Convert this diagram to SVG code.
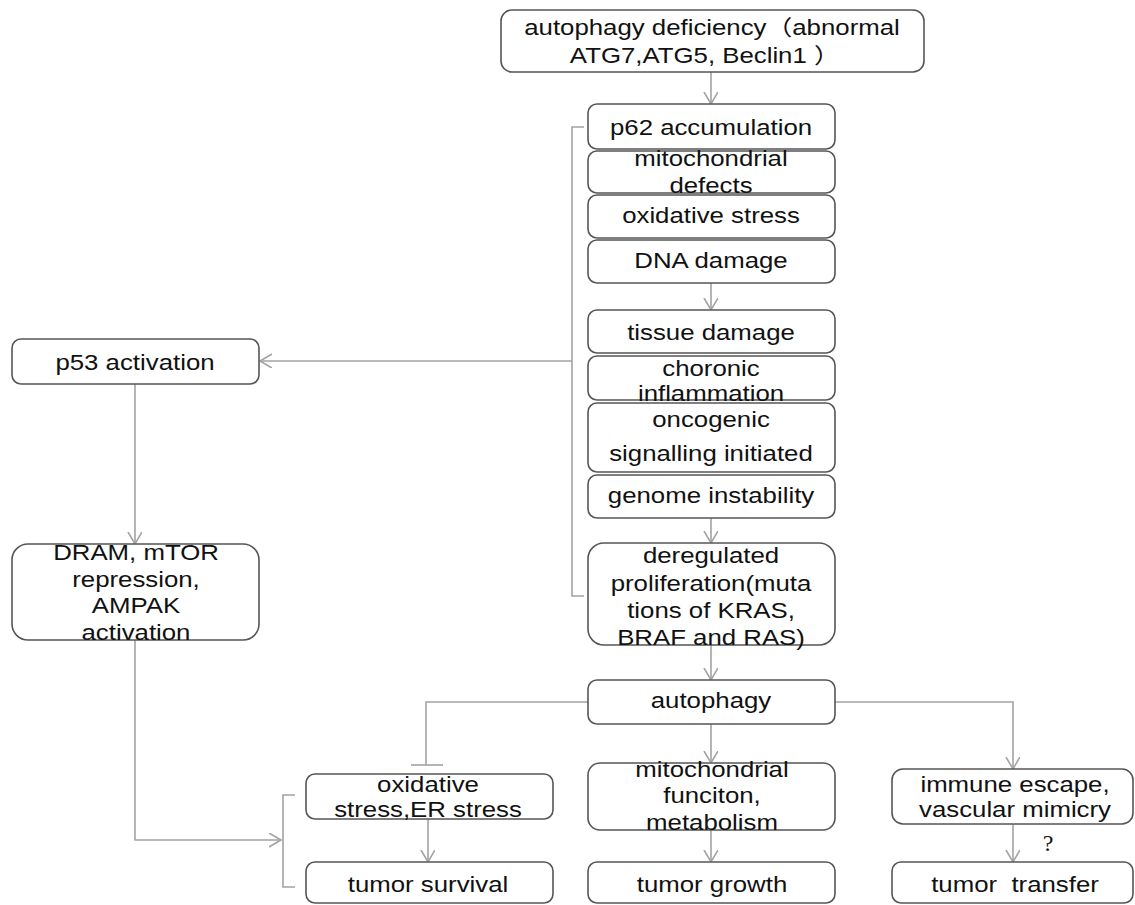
<svg xmlns="http://www.w3.org/2000/svg" width="1135" height="905" viewBox="0 0 1135 905">
<style>
  .box { fill: #ffffff; stroke: #555555; stroke-width: 1.6; }
  .t { font-family: "Liberation Sans", "Noto Sans CJK SC", Arial, sans-serif; font-size: 21.5px; fill: #111111; text-anchor: middle; }
  .q { font-family: "Liberation Serif", "Times New Roman", serif; font-size: 24px; fill: #111111; text-anchor: middle; }
  .c { fill: none; stroke: #a3a3a3; stroke-width: 1.6; }
</style>
<defs>
  <marker id="arr" markerUnits="userSpaceOnUse" markerWidth="16" markerHeight="16" refX="12" refY="7" orient="auto">
    <path d="M0,0 L12,7 L0,14" fill="none" stroke="#a3a3a3" stroke-width="1.6"/>
  </marker>
</defs>
<rect width="1135" height="905" fill="#ffffff"/>

<g id="connectors">
  <line class="c" x1="711" y1="72" x2="711" y2="104" marker-end="url(#arr)"/>
  <line class="c" x1="711" y1="283" x2="711" y2="310" marker-end="url(#arr)"/>
  <line class="c" x1="711" y1="518" x2="711" y2="543" marker-end="url(#arr)"/>
  <line class="c" x1="711" y1="645" x2="711" y2="680" marker-end="url(#arr)"/>
  <polyline class="c" points="584,127 572,127 572,596 584,596"/>
  <line class="c" x1="572" y1="361" x2="260" y2="361" marker-end="url(#arr)"/>
  <line class="c" x1="135" y1="384" x2="135" y2="544" marker-end="url(#arr)"/>
  <polyline class="c" points="135,640 135,840 281,840" marker-end="url(#arr)"/>
  <polyline class="c" points="295,795 283,795 283,887 295,887"/>
  <polyline class="c" points="588,702 426,702 426,765"/>
  <line class="c" x1="411" y1="765" x2="443" y2="765"/>
  <line class="c" x1="711" y1="724" x2="711" y2="763" marker-end="url(#arr)"/>
  <polyline class="c" points="835,702 1013,702 1013,769" marker-end="url(#arr)"/>
  <line class="c" x1="428" y1="819" x2="428" y2="862" marker-end="url(#arr)"/>
  <line class="c" x1="711" y1="830" x2="711" y2="862" marker-end="url(#arr)"/>
  <line class="c" x1="1013" y1="824" x2="1013" y2="862" marker-end="url(#arr)"/>
  <text class="q" x="1048" y="851">?</text>
</g>

<g id="n-deficiency">
  <rect class="box" x="501" y="10" width="423" height="62" rx="11"/>
  <text class="t" transform="translate(712,0) scale(1.2,1)"><tspan x="0" y="35">autophagy deficiency（abnormal</tspan><tspan x="-6" y="63" xml:space="preserve">ATG7,ATG5, Beclin1 ）</tspan></text>
</g>
<g id="n-p62">
  <rect class="box" x="588" y="104" width="247" height="45" rx="9"/>
  <text class="t" transform="translate(711,135) scale(1.2,1)">p62 accumulation</text>
</g>
<g id="n-mito-defects">
  <rect class="box" x="588" y="151" width="247" height="42" rx="9"/>
  <text class="t" transform="translate(711,0) scale(1.2,1)"><tspan x="0" y="166">mitochondrial</tspan><tspan x="0" y="193">defects</tspan></text>
</g>
<g id="n-oxidative">
  <rect class="box" x="588" y="195" width="247" height="43" rx="9"/>
  <text class="t" transform="translate(711,223) scale(1.2,1)">oxidative stress</text>
</g>
<g id="n-dna">
  <rect class="box" x="588" y="240" width="247" height="43" rx="9"/>
  <text class="t" transform="translate(711,268) scale(1.2,1)">DNA damage</text>
</g>
<g id="n-tissue">
  <rect class="box" x="588" y="310" width="247" height="43" rx="9"/>
  <text class="t" transform="translate(711,340) scale(1.2,1)">tissue damage</text>
</g>
<g id="n-inflammation">
  <rect class="box" x="588" y="356" width="247" height="44" rx="9"/>
  <text class="t" transform="translate(711,0) scale(1.2,1)"><tspan x="0" y="376">choronic</tspan><tspan x="0" y="401">inflammation</tspan></text>
</g>
<g id="n-oncogenic">
  <rect class="box" x="588" y="403" width="247" height="69" rx="9"/>
  <text class="t" transform="translate(711,0) scale(1.2,1)"><tspan x="0" y="427">oncogenic</tspan><tspan x="0" y="461">signalling initiated</tspan></text>
</g>
<g id="n-genome">
  <rect class="box" x="588" y="475" width="247" height="43" rx="9"/>
  <text class="t" transform="translate(711,503) scale(1.2,1)">genome instability</text>
</g>
<g id="n-deregulated">
  <rect class="box" x="588" y="543" width="247" height="102" rx="16"/>
  <text class="t" transform="translate(711,0) scale(1.2,1)"><tspan x="0" y="563">deregulated</tspan><tspan x="0" y="591">proliferation(muta</tspan><tspan x="0" y="618">tions of KRAS,</tspan><tspan x="0" y="645">BRAF and RAS)</tspan></text>
</g>
<g id="n-p53">
  <rect class="box" x="12" y="339" width="247" height="45" rx="9"/>
  <text class="t" transform="translate(135,370) scale(1.2,1)">p53 activation</text>
</g>
<g id="n-dram">
  <rect class="box" x="12" y="544" width="247" height="96" rx="16"/>
  <text class="t" transform="translate(136,0) scale(1.2,1)"><tspan x="0" y="560">DRAM, mTOR</tspan><tspan x="0" y="587">repression,</tspan><tspan x="0" y="613">AMPAK</tspan><tspan x="0" y="640">activation</tspan></text>
</g>
<g id="n-autophagy">
  <rect class="box" x="588" y="680" width="247" height="44" rx="9"/>
  <text class="t" transform="translate(711,708) scale(1.2,1)">autophagy</text>
</g>
<g id="n-stress">
  <rect class="box" x="306" y="774" width="247" height="45" rx="9"/>
  <text class="t" transform="translate(428,0) scale(1.2,1)"><tspan x="0" y="792">oxidative</tspan><tspan x="0" y="817">stress,ER stress</tspan></text>
</g>
<g id="n-mito-function">
  <rect class="box" x="588" y="763" width="247" height="67" rx="12"/>
  <text class="t" transform="translate(712,0) scale(1.2,1)"><tspan x="0" y="777">mitochondrial</tspan><tspan x="0" y="803">funciton,</tspan><tspan x="0" y="830">metabolism</tspan></text>
</g>
<g id="n-immune">
  <rect class="box" x="892" y="769" width="241" height="55" rx="11"/>
  <text class="t" transform="translate(1015,0) scale(1.2,1)"><tspan x="0" y="792">immune escape,</tspan><tspan x="0" y="817">vascular mimicry</tspan></text>
</g>
<g id="n-survival">
  <rect class="box" x="306" y="862" width="247" height="41" rx="9"/>
  <text class="t" transform="translate(428,892) scale(1.2,1)">tumor survival</text>
</g>
<g id="n-growth">
  <rect class="box" x="588" y="862" width="247" height="41" rx="9"/>
  <text class="t" transform="translate(712,892) scale(1.2,1)">tumor growth</text>
</g>
<g id="n-transfer">
  <rect class="box" x="892" y="862" width="241" height="41" rx="9"/>
  <text class="t" transform="translate(1015,892) scale(1.2,1)" xml:space="preserve">tumor  transfer</text>
</g>
</svg>
